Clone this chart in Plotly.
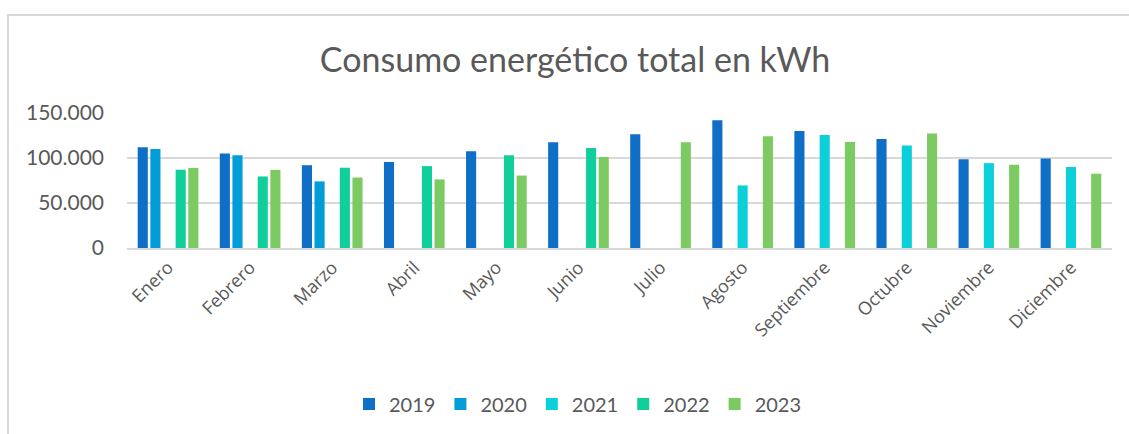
"""Consumo energético total en kWh, grouped bars by month and year."""

import plotly.graph_objects as go

MONTHS = [
    "Enero", "Febrero", "Marzo", "Abril", "Mayo", "Junio",
    "Julio", "Agosto", "Septiembre", "Octubre", "Noviembre", "Diciembre",
]
YEARS = ["2019", "2020", "2021", "2022", "2023"]

KWH_2019 = [112000, 105000, 92000, 95500, 107500, 117500, 126500, 142000, 130000, 121000, 98700, 99400]
KWH_2020 = [110000, 103000, 74000, None, None, None, None, None, None, None, None, None]
KWH_2021 = [None, None, None, None, None, None, None, 69500, 125500, 114000, 94300, 90000]
KWH_2022 = [87000, 79500, 89200, 91000, 103000, 111000, None, None, None, None, None, None]
KWH_2023 = [89000, 86800, 78300, 76200, 80500, 101000, 117500, 124300, 117800, 127200, 92500, 82600]

SERIES = [KWH_2019, KWH_2020, KWH_2021, KWH_2022, KWH_2023]
COLORS = ["#0F6FC6", "#009DD9", "#0BD0D9", "#10CF9B", "#7CCA62"]

TEXT = "#595959"
GRID = "#D9D9D9"

fig = go.Figure()
for year, values, color in zip(YEARS, SERIES, COLORS):
    fig.add_trace(
        go.Bar(
            x=MONTHS,
            y=values,
            name=year,
            marker={"color": color, "line": {"width": 0}},
        )
    )

# plot area in pixels: x 127..1112, y 113..249.5 (of 1129x434)
plot_w = 1112 - 127
plot_h = 249.5 - 113

fig.update_layout(
    width=1129,
    height=434,
    margin={"l": 127, "r": 17, "t": 113, "b": 184.5},
    paper_bgcolor="white",
    plot_bgcolor="white",
    separators=",.",
    barmode="group",
    bargap=0.23,
    bargroupgap=0.2,
    font={"family": "Lato, sans-serif", "color": TEXT, "size": 20},
    title={
        "text": "Consumo energético total en kWh",
        "x": 575 / 1129,
        "xanchor": "center",
        "y": 1 - 60 / 434,
        "yanchor": "middle",
        "font": {"size": 34, "color": TEXT, "family": "Lato, sans-serif"},
    },
    showlegend=True,
    legend={
        "orientation": "h",
        "x": 0.5 + (578 - 127 - plot_w / 2) / plot_w,
        "xanchor": "center",
        "y": (249.5 - 405) / plot_h,
        "yanchor": "middle",
        "font": {"size": 20, "color": TEXT},
        "itemwidth": 30,
        "traceorder": "normal",
    },
    shapes=[
        {
            "type": "rect",
            "xref": "paper",
            "yref": "paper",
            "x0": (8 - 127) / plot_w,
            "x1": 1.2,
            "y0": -3,
            "y1": (249.5 - 14) / plot_h,
            "line": {"color": GRID, "width": 2},
            "fillcolor": "rgba(0,0,0,0)",
            "layer": "below",
        }
    ],
)

fig.update_xaxes(
    tickangle=-45,
    tickfont={"family": "Open Sans, sans-serif", "size": 18, "color": TEXT},
    showgrid=False,
    showline=True,
    linecolor=GRID,
    linewidth=2,
    ticks="",
)
fig.update_yaxes(
    range=[0, 150000],
    dtick=50000,
    tickformat=",",
    showgrid=True,
    gridcolor=GRID,
    gridwidth=1.5,
    zeroline=False,
    showline=False,
    ticks="",
    ticklabelstandoff=22,
    tickfont={"size": 21, "color": TEXT},
)

# the page's default body margin would push the chart off its 1129x434 frame
fig.write_html(
    "out.html",
    config={"displayModeBar": False},
    post_script="document.body.style.margin = '0';",
)
